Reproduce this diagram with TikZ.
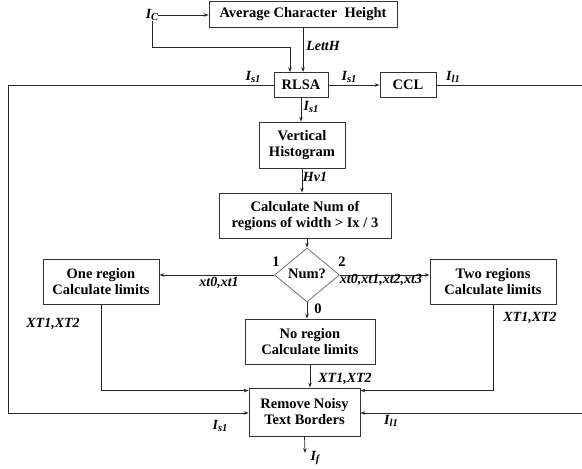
\documentclass[tikz,border=0pt]{standalone}
\usepackage{fontspec}
\setmainfont{Liberation Serif}
\usetikzlibrary{arrows.meta,shapes.geometric}
\newcommand\mysub[2]{#1\raisebox{-0.4ex}{\fontsize{10.5}{10.5}\selectfont #2}}
\begin{document}
\begin{tikzpicture}[x=1pt,y=-1pt,
  box/.style={draw=black!80, line width=0.8pt, rectangle, align=center,
    font=\fontsize{14.5}{16}\selectfont\bfseries, inner sep=0pt},
  lab/.style={font=\fontsize{14}{16}\selectfont\bfseries\itshape, inner sep=0pt},
  num/.style={font=\fontsize{14.5}{16}\selectfont\bfseries, inner sep=0pt},
  line/.style={draw=black!85, line width=0.7pt},
  arr/.style={line, -{Stealth[length=5pt,width=3.5pt]}}]
\useasboundingbox (0,0) rectangle (582,469);

% boxes
\node[box, minimum width=188pt, minimum height=26pt] (avg) at (303,14) {Average Character\ \ Height};
\node[box, minimum width=54pt, minimum height=25pt] (rlsa) at (301,85) {RLSA};
\node[box, minimum width=56pt, minimum height=25pt] (ccl) at (408,85) {CCL};
\node[box, minimum width=86pt, minimum height=46pt] (vh) at (302,145) {Vertical\\Histogram};
\node[box, minimum width=172pt, minimum height=45pt] (calc) at (305,215.5) {Calculate Num of\\regions of width \textgreater{} Ix / 3};
\node[diamond, draw=black!55, line width=0.8pt, minimum width=65pt, minimum height=54pt,
      inner sep=0pt, font=\fontsize{14.5}{16}\selectfont\bfseries] (dia) at (307,275) {\raisebox{3pt}{Num?}};
\node[box, minimum width=116pt, minimum height=45pt] (one) at (101,281.5) {One region\\Calculate limits};
\node[box, minimum width=126pt, minimum height=45pt] (two) at (493,281.5) {Two regions\\Calculate limits};
\node[box, minimum width=130pt, minimum height=45pt] (noreg) at (310,341.5) {No region\\Calculate limits};
\node[box, minimum width=111pt, minimum height=48pt] (remove) at (304.5,412) {Remove Noisy\\Text Borders};

% free text / coordinates
\node[lab] (ic) at (152,15) {\mysub{I}{C}};
\coordinate (icb) at (290,47);
\coordinate (lt) at (8,85);
\coordinate (lb) at (8,413);
\coordinate (rt) at (583,85);
\coordinate (rb) at (583,413);
\coordinate (out) at (305,453);

% connectors
\draw[arr] (ic) -- (avg.west |- ic);
\draw[arr] (ic.south) |- (icb) -- (icb |- rlsa.north);
\draw[arr] (avg.south) -- (rlsa.north -| avg.south);
\draw[arr] (rlsa) -- (ccl);
\draw[arr] (rlsa.south) -- (rlsa.south |- vh.north);
\draw[arr] (vh.south) -- (vh.south |- calc.north);
\draw[arr] (dia.north |- calc.south) -- (dia.north);
\draw[arr] (dia.west) -- (one.east |- dia.west);
\draw[arr] (dia.east) -- (two.west |- dia.east);
\draw[arr] (dia.south) -- (dia.south |- noreg.north);
\draw[arr] (noreg.south) -- (noreg.south |- remove.north);
\draw[arr] (one.south) |- ([yshift=-3pt]remove.north west);
\draw[arr] (two.south) |- ([yshift=-3pt]remove.north east);
\draw[arr] (rlsa.west) -- (lt) -- (lb) -- (lb -| remove.west);
\draw[arr] (ccl.east) -- (rt) -- (rb) -- (rb -| remove.east);
\draw[arr] (remove.south) -- (out);

% labels
\node[lab] (l1) at (323,46) {LettH};
\node[lab] (l2) at (253,77) {\mysub{I}{s1}};
\node[lab] (l3) at (349,77) {\mysub{I}{s1}};
\node[lab] (l4) at (453,77) {\mysub{I}{l1}};
\node[lab] (l5) at (311,107) {\mysub{I}{s1}};
\node[lab] (l6) at (315,177) {Hv1};
\node[num] (n1) at (276,262) {1};
\node[num] (n2) at (342,262) {2};
\node[num] (n0) at (318,309) {0};
\node[lab] (l7) at (219,283) {xt0,xt1};
\node[lab] (l8) at (381,280) {xt0,xt1,xt2,xt3};
\node[lab] (l9) at (53,324) {XT1,XT2};
\node[lab] (l10) at (530,318) {XT1,XT2};
\node[lab] (l11) at (345,379) {XT1,XT2};
\node[lab] (l12) at (220,426) {\mysub{I}{s1}};
\node[lab] (l13) at (391,421) {\mysub{I}{l1}};
\node[lab] (l14) at (315,458) {\mysub{I}{f}};
\end{tikzpicture}
\end{document}
